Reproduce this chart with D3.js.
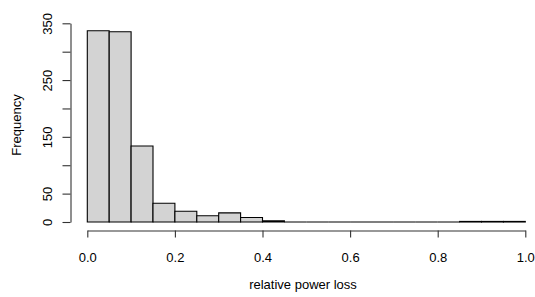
<!DOCTYPE html>
<html>
<head>
<meta charset="utf-8">
<script src="https://cdn.jsdelivr.net/npm/d3@7"></script>
<style>
  body { margin: 0; background: #fff; }
  svg text { font-family: "Liberation Sans", Arial, sans-serif; }
</style>
</head>
<body>
<script>
const width = 535;
const height = 297;

// histogram of relative power loss, bins of width 0.05
const binStarts = [0, 0.05, 0.1, 0.15, 0.2, 0.25, 0.3, 0.35, 0.4, 0.45,
                   0.5, 0.55, 0.6, 0.65, 0.7, 0.75, 0.8, 0.85, 0.9, 0.95];
const binWidth = 0.05;
const counts = [337, 335, 134, 33, 19, 11, 16, 8, 2, 0,
                0, 0, 0, 0, 0, 0, 0, 1, 1, 1];

const xTicks = [0, 0.2, 0.4, 0.6, 0.8, 1.0];
const xTickLabels = ['0.0', '0.2', '0.4', '0.6', '0.8', '1.0'];
const yTicks = [0, 50, 100, 150, 200, 250, 300, 350];
const yTickLabels = ['0', '50', '', '150', '', '250', '', '350'];

const xTitle = 'relative power loss';
const yTitle = 'Frequency';

const svg = d3.select('body')
  .append('svg')
  .attr('width', width)
  .attr('height', height);

const x = d3.scaleLinear().domain([0, 1]).range([87.3, 525.3]);
const y = d3.scaleLinear().domain([0, 350]).range([222, 23.3]);

// bars as closed paths so empty bins still show a line at the base (like R)
svg.append('g')
  .selectAll('path')
  .data(counts)
  .join('path')
  .attr('d', (d, i) => {
    const x0 = x(binStarts[i]), x1 = x(binStarts[i] + binWidth);
    return `M${x0},${y(0)}V${y(d)}H${x1}V${y(0)}Z`;
  })
  .attr('fill', '#d3d3d3')
  .attr('stroke', '#000')
  .attr('stroke-width', 1.1);

// x axis
const xAxis = d3.axisBottom(x)
  .tickValues(xTicks)
  .tickFormat((d, i) => xTickLabels[i])
  .tickSize(7)
  .tickSizeOuter(0)
  .tickPadding(15);

const gx = svg.append('g')
  .attr('transform', 'translate(0,230.5)')
  .call(xAxis);
gx.selectAll('text').attr('font-size', 13).attr('fill', '#000');

// y axis, labels parallel to the axis like R
const yAxis = d3.axisLeft(y)
  .tickValues(yTicks)
  .tickFormat((d, i) => yTickLabels[i])
  .tickSize(8)
  .tickSizeOuter(0);

const gy = svg.append('g')
  .attr('transform', 'translate(70.5,0)')
  .call(yAxis);
gy.selectAll('text')
  .attr('font-size', 13)
  .attr('fill', '#000')
  .attr('text-anchor', 'middle')
  .attr('dy', null)
  .attr('x', 0)
  .attr('y', -18.5)
  .attr('transform', 'rotate(-90)');

svg.selectAll('.domain, .tick line').attr('stroke', '#333').attr('stroke-width', 1.1);
svg.selectAll('g').attr('font-family', null);

// titles
svg.append('text')
  .attr('x', 303)
  .attr('y', 289)
  .attr('text-anchor', 'middle')
  .attr('font-size', 13)
  .text(xTitle);

svg.append('text')
  .attr('transform', 'translate(20.5,125) rotate(-90)')
  .attr('text-anchor', 'middle')
  .attr('font-size', 13)
  .text(yTitle);
</script>
</body>
</html>
